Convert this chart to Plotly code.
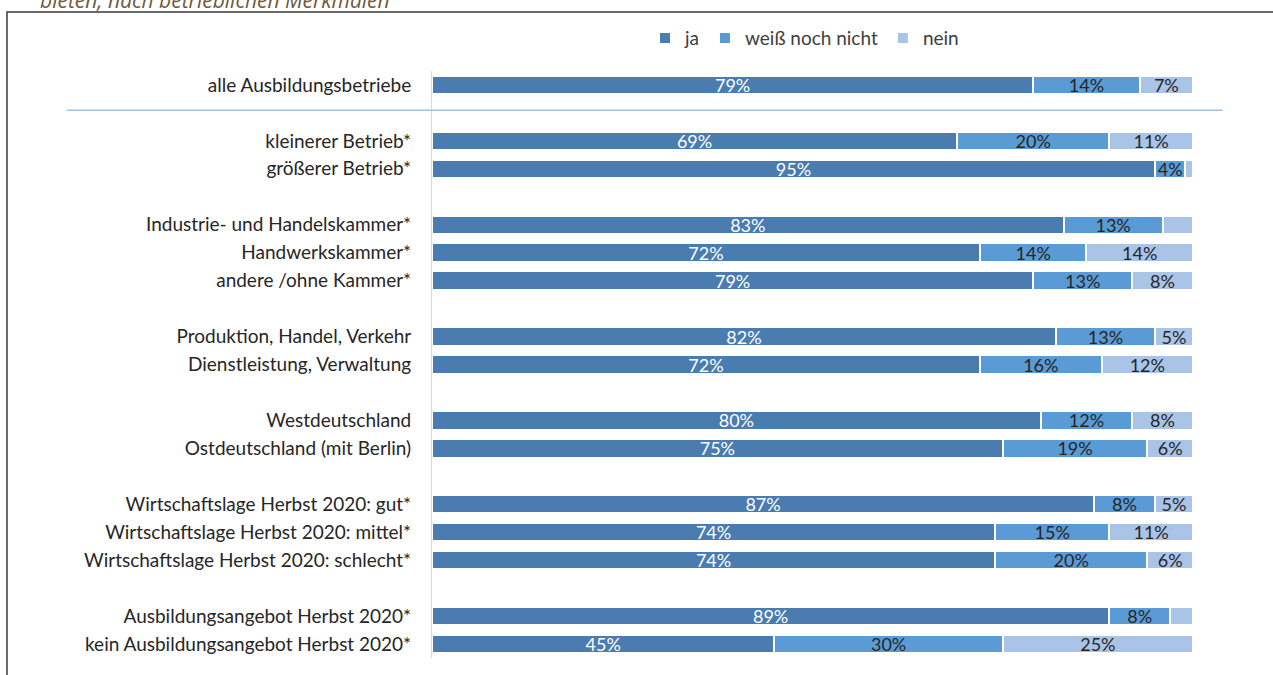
import plotly.graph_objects as go

categories = [
    "alle Ausbildungsbetriebe", "",
    "kleinerer Betrieb*", "größerer Betrieb*", "",
    "Industrie- und Handelskammer*", "Handwerkskammer*", "andere /ohne Kammer*", "",
    "Produktion, Handel, Verkehr", "Dienstleistung, Verwaltung", "",
    "Westdeutschland", "Ostdeutschland (mit Berlin)", "",
    "Wirtschaftslage Herbst 2020: gut*", "Wirtschaftslage Herbst 2020: mittel*",
    "Wirtschaftslage Herbst 2020: schlecht*", "",
    "Ausbildungsangebot Herbst 2020*", "kein Ausbildungsangebot Herbst 2020*",
]
ja = [79, None, 69, 95, None, 83, 72, 79, None, 82, 72, None, 80, 75, None, 87, 74, 74, None, 89, 45]
weiss = [14, None, 20, 4, None, 13, 14, 13, None, 13, 16, None, 12, 19, None, 8, 15, 20, None, 8, 30]
nein = [7, None, 11, 1, None, 4, 14, 8, None, 5, 12, None, 8, 6, None, 5, 11, 6, None, 3, 25]
nein_labels = ["7%", "", "11%", "", "", "", "14%", "8%", "", "5%", "12%", "", "8%", "6%", "",
               "5%", "11%", "6%", "", "", "25%"]

series_names = ["ja", "weiß noch nicht", "nein"]
colors = ["#4a7caf", "#5b9bd5", "#a9c4e6"]

def labels(vals):
    return ["" if v is None else f"{v}%" for v in vals]

ypos = list(range(len(categories)))
font_family = "Lato, 'Open Sans', sans-serif"

fig = go.Figure()
for name, vals, col, txt, tcol in [
    (series_names[0], ja, colors[0], labels(ja), "white"),
    (series_names[1], weiss, colors[1], labels(weiss), "#262626"),
    (series_names[2], nein, colors[2], nein_labels, "#262626"),
]:
    fig.add_trace(go.Bar(
        name=name, x=vals, y=ypos, orientation="h",
        marker=dict(color=col, line=dict(color="white", width=2)),
        width=0.66, text=txt, textposition="inside", insidetextanchor="middle",
        textangle=0, insidetextfont=dict(color=tcol, size=18, family=font_family),
        hoverinfo="skip",
    ))

fig.update_layout(
    barmode="stack",
    width=1273, height=675,
    paper_bgcolor="white", plot_bgcolor="white",
    margin=dict(l=432, r=80, t=71, b=17),
    font=dict(family=font_family, size=18, color="#262626"),
    uniformtext=dict(mode="show", minsize=18),
    showlegend=True,
    legend=dict(orientation="h", x=0.4895, y=1.056, xanchor="center", yanchor="middle",
                font=dict(size=19, color="#404040"), traceorder="normal",
                itemwidth=30, bgcolor="rgba(0,0,0,0)"),
    xaxis=dict(range=[0, 100], visible=False, fixedrange=True),
    yaxis=dict(range=[len(categories) - 0.5, -0.5], tickmode="array", tickvals=ypos,
               ticktext=categories, showline=True, linecolor="#d9d9d9", linewidth=1,
               showgrid=False, zeroline=False, ticks="", ticklabelstandoff=16,
               tickfont=dict(size=19, color="#262626")),
    shapes=[
        dict(type="line", xref="paper", yref="y", x0=-0.48, x1=1.039, y0=0.9, y1=0.9,
             line=dict(color="#9dc3e6", width=1.5)),
        dict(type="rect", xref="paper", yref="paper", x0=-0.5585, x1=1.12, y0=-0.06, y1=1.1005,
             line=dict(color="#3a3a3a", width=1.5), fillcolor="rgba(0,0,0,0)", layer="below"),
    ],
    annotations=[
        dict(text="<i>bieten, nach betrieblichen Merkmalen</i>", xref="paper", yref="paper",
             x=-0.5177, y=1.1005, xanchor="left", yanchor="bottom", yshift=-4, showarrow=False,
             font=dict(size=21, color="#6e5a3a", family="'Open Sans', sans-serif")),
    ],
)

fig.write_html("out.html", config={"displayModeBar": False},
               post_script="document.body.style.margin='0px';document.body.style.padding='0px';")
